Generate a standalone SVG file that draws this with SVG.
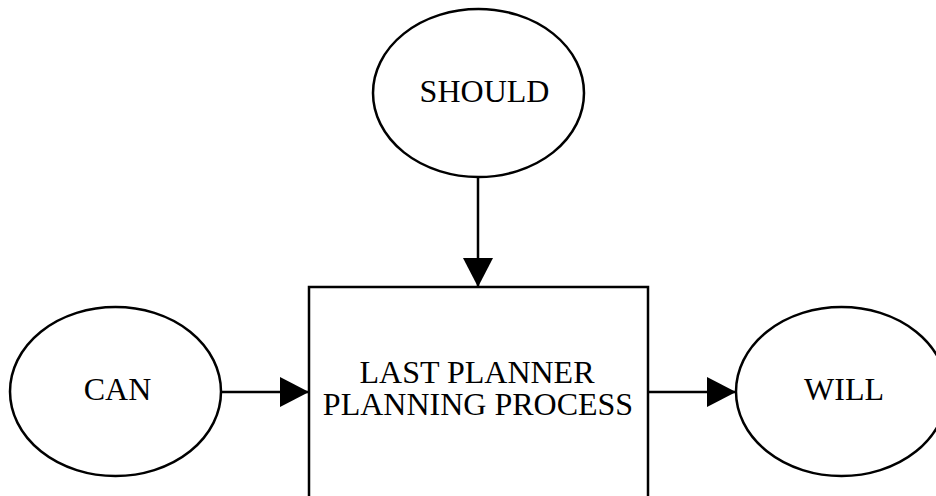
<svg xmlns="http://www.w3.org/2000/svg" width="936" height="496" viewBox="0 0 936 496">
<defs>
<style>
.shape{fill:#fff;stroke:#000;stroke-width:2.5}
.lbl{font-family:"Liberation Serif","Times New Roman",serif;font-size:32px;fill:#000;text-anchor:middle}
.edge{stroke:#000;stroke-width:2.5;fill:none}
</style>
<marker id="ah" viewBox="0 0 29 30" refX="29" refY="15" markerWidth="29" markerHeight="30" markerUnits="userSpaceOnUse" orient="auto">
<path d="M0,0 L29,15 L0,30 Z" fill="#000"/>
</marker>
</defs>
<rect width="936" height="496" fill="#fff"/>
<g id="should">
<ellipse class="shape" cx="478.5" cy="93" rx="105.5" ry="84"/>
<text class="lbl" x="484.5" y="102">SHOULD</text>
</g>
<g id="process">
<rect class="shape" x="309" y="287" width="339" height="215"/>
<text class="lbl" x="477" y="383">LAST PLANNER</text>
<text class="lbl" x="478" y="415">PLANNING PROCESS</text>
</g>
<g id="can">
<ellipse class="shape" cx="115.5" cy="391.5" rx="105.5" ry="84.5"/>
<text class="lbl" x="117.5" y="400">CAN</text>
</g>
<g id="will">
<ellipse class="shape" cx="841.5" cy="391.5" rx="105.5" ry="84.5"/>
<text class="lbl" x="844" y="400">WILL</text>
</g>
<g id="connectors">
<line class="edge" x1="478" y1="177" x2="478" y2="287" marker-end="url(#ah)"/>
<line class="edge" x1="221" y1="392" x2="309" y2="392" marker-end="url(#ah)"/>
<line class="edge" x1="648" y1="392" x2="736" y2="392" marker-end="url(#ah)"/>
</g>
</svg>
